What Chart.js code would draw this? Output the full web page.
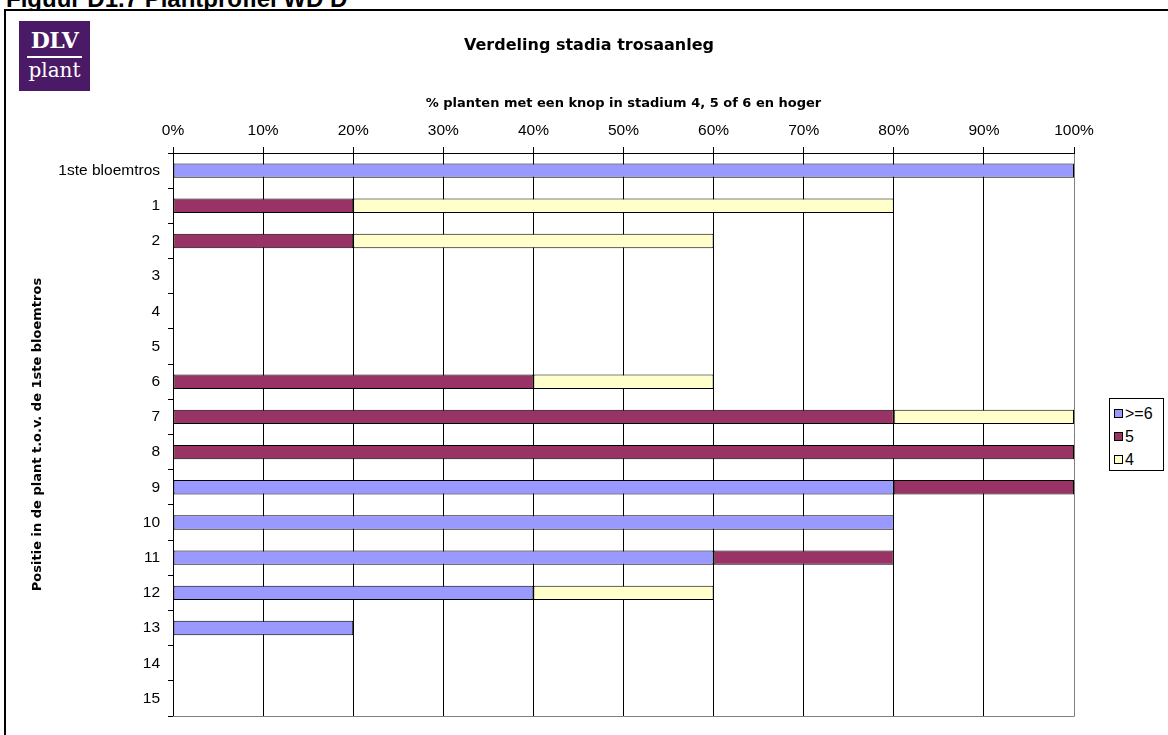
<!DOCTYPE html>
<html>
<head>
<meta charset="utf-8">
<script src="https://cdn.jsdelivr.net/npm/chart.js@4/dist/chart.umd.min.js"></script>
<style>
    body { margin: 0; background: #fff; font-family: "Liberation Sans", Arial, sans-serif; }
    #page { position: relative; width: 1168px; height: 735px; overflow: hidden; background: #fff; }
    #caption { position: absolute; left: 6px; top: -13px; font-weight: bold; font-size: 24px; line-height: 24px; color: #000; white-space: nowrap; }
    #frame { position: absolute; left: 4px; top: 9px; width: 1200px; height: 760px; border: 2px solid #000; box-sizing: border-box; background: #fff; }
    #logo { position: absolute; left: 19px; top: 21px; width: 71px; height: 70px; background: #4b1a66; color: #fff; text-align: center; }
    #logo .big { font-family: "DejaVu Serif", serif; font-weight: bold; font-size: 22px; line-height: 22px; margin-top: 8px; letter-spacing: -0.5px; }
    #logo .rule { width: 55px; height: 2px; background: #fff; margin: 5px auto 1px; }
    #logo .small { font-family: "DejaVu Serif", serif; font-size: 20px; line-height: 22px; }
    #chart-box { position: absolute; left: 0; top: 0; width: 1105px; height: 735px; }
    #legend { position: absolute; left: 1109px; top: 398px; width: 55px; height: 73px; border: 1px solid #000;
              box-sizing: border-box; background: #fff; font-size: 16px; padding-top: 3px; }
    #legend div { display: flex; align-items: center; height: 23px; padding-left: 4px; }
    #legend span.sw { width: 9px; height: 9px; border: 1px solid #000; box-sizing: border-box; margin-right: 2px; display: inline-block; }
</style>
</head>
<body>
<div id="page">
    <div id="caption">Figuur D1.7 Plantprofiel WD D</div>
    <div id="frame"></div>
    <div id="chart-box"><canvas id="chart"></canvas></div>
    <div id="logo"><div class="big">DLV</div><div class="rule"></div><div class="small">plant</div></div>
    <div id="legend"></div>
</div>
<script>
// --- Data ---
const positions = ['1ste bloemtros', '1', '2', '3', '4', '5', '6', '7', '8', '9', '10', '11', '12', '13', '14', '15'];
const stage6 = [100, null, null, null, null, null, null, null, null, 80, 80, 60, 40, 20, null, null];
const stage5 = [null, 20, 20, null, null, null, 40, 80, 100, 20, null, 20, null, null, null, null];
const stage4 = [null, 60, 40, null, null, null, 20, 20, null, null, null, null, 20, null, null, null];
const percentTicks = [0, 10, 20, 30, 40, 50, 60, 70, 80, 90, 100];

const seriesInfo = [
    { label: '>=6', data: stage6, color: '#9999ff' },
    { label: '5', data: stage5, color: '#993366' },
    { label: '4', data: stage4, color: '#ffffcc' }
];

const TICK_FONT = '"Liberation Sans", Arial, sans-serif';
const TITLE_FONT = '"DejaVu Sans", Verdana, sans-serif';

// legend drawn as plain HTML next to the chart
const legendEl = document.getElementById('legend');
seriesInfo.forEach(s => {
    const row = document.createElement('div');
    row.innerHTML = `<span class="sw" style="background:${s.color}"></span>${s.label}`;
    legendEl.appendChild(row);
});

const ctx = document.getElementById('chart').getContext('2d');
new Chart(ctx, {
    type: 'bar',
    data: {
        labels: positions,
        datasets: seriesInfo.map(s => ({
            label: s.label,
            data: s.data,
            backgroundColor: s.color,
            borderColor: '#000',
            borderWidth: 1,
            borderSkipped: false,
            categoryPercentage: 1,
            barPercentage: 0.41
        }))
    },
    options: {
        indexAxis: 'y',
        responsive: true,
        maintainAspectRatio: false,
        animation: false,
        layout: { padding: { left: 20, right: 31, top: 0, bottom: 19 } },
        plugins: {
            legend: { display: false },
            tooltip: { enabled: false },
            title: {
                display: true,
                text: 'Verdeling stadia trosaanleg',
                color: '#000',
                font: { family: TITLE_FONT, size: 16, weight: 'bold' },
                padding: { top: 36, bottom: 30 }
            }
        },
        scales: {
            x: {
                position: 'top',
                stacked: true,
                min: 0,
                max: 100,
                afterBuildTicks: scale => { scale.ticks = percentTicks.map(v => ({ value: v })); },
                afterFit: scale => { scale.height = 67.8; },
                ticks: {
                    color: '#000',
                    padding: 7,
                    font: { family: TICK_FONT, size: 15.5 },
                    callback: v => v + '%'
                },
                grid: { color: '#000', lineWidth: 1, tickLength: 6 },
                border: { color: '#000', width: 1 },
                title: {
                    display: true,
                    text: '% planten met een knop in stadium 4, 5 of 6 en hoger',
                    color: '#000',
                    font: { family: TITLE_FONT, size: 13, weight: 'bold' },
                    padding: { top: 11, bottom: 0 }
                }
            },
            y: {
                stacked: true,
                afterFit: scale => { scale.width = 153; },
                ticks: {
                    color: '#000',
                    padding: 8,
                    font: { family: TICK_FONT, size: 15.5 }
                },
                grid: { drawOnChartArea: false, color: '#000', tickLength: 5, offset: true },
                border: { color: '#000', width: 1 },
                title: {
                    display: true,
                    text: 'Positie in de plant t.o.v. de 1ste bloemtros',
                    color: '#000',
                    font: { family: TITLE_FONT, size: 13, weight: 'bold' },
                    padding: { top: 10, bottom: 0 }
                }
            }
        }
    },
    plugins: [{
        // centre the main title over the whole framed figure, legend included
        id: 'titleSpan',
        afterLayout(chart) {
            const t = chart.titleBlock;
            if (t) {
                t.left = 10;
                t.right = 1168;
            }
        }
    }, {
        // grey lines closing the plot area at the bottom and right
        id: 'plotEdge',
        afterDraw(chart) {
            const { ctx, chartArea } = chart;
            const b = Math.round(chartArea.bottom) + 0.5;
            const r = Math.round(chartArea.right) + 0.5;
            ctx.save();
            ctx.strokeStyle = '#808080';
            ctx.lineWidth = 1;
            ctx.beginPath();
            ctx.moveTo(chartArea.left, b);
            ctx.lineTo(r, b);
            ctx.moveTo(r, chartArea.top + 1);
            ctx.lineTo(r, b);
            ctx.stroke();
            ctx.restore();
        }
    }]
});
</script>
</body>
</html>
